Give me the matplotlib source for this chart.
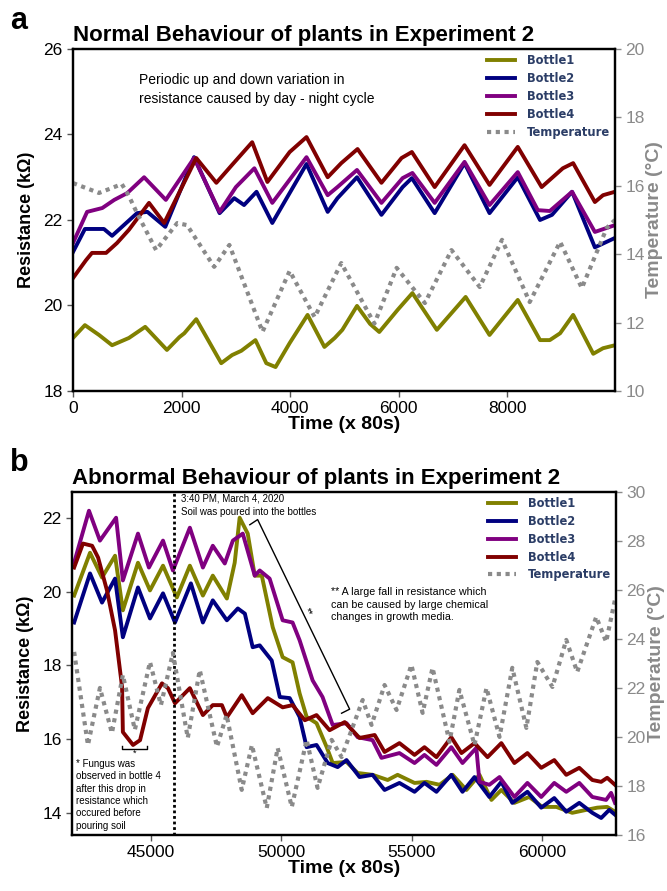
import numpy as np
import matplotlib
matplotlib.use('Agg')
import matplotlib.pyplot as plt

plt.rcParams['font.family'] = ['Liberation Sans', 'DejaVu Sans']

# ---- panel a : normal behaviour (x in units of 80 s) ----
a_b1_x = [0, 220, 480, 720, 1030, 1330, 1730, 1960, 2050, 2270, 2730, 2930, 3100, 3360, 3560, 3730, 3990,
          4320, 4630, 4820, 4960, 5230, 5470, 5640, 5980, 6250, 6700, 7230, 7670, 8190, 8600, 8780, 8970,
          9210, 9580, 9760, 9980]
a_b1_y = [19.24, 19.54, 19.31, 19.07, 19.24, 19.5, 18.96, 19.26, 19.35, 19.68, 18.65, 18.84, 18.94, 19.19,
          18.65, 18.56, 19.12, 19.78, 19.03, 19.24, 19.43, 19.99, 19.57, 19.38, 19.9, 20.29, 19.43, 20.2,
          19.31, 20.13, 19.19, 19.19, 19.35, 19.78, 18.87, 19.0, 19.07]
a_b2_x = [0, 220, 570, 720, 980, 1180, 1370, 1700, 2230, 2700, 2970, 3150, 3380, 3670, 4300, 4690, 4870,
          5230, 5680, 6070, 6240, 6660, 7210, 7670, 8190, 8600, 8820, 9190, 9610, 9980]
a_b2_y = [21.25, 21.79, 21.79, 21.63, 21.93, 22.16, 22.19, 21.84, 23.47, 22.16, 22.51, 22.35, 22.66, 21.93,
          23.31, 22.19, 22.51, 23.0, 22.12, 22.77, 22.98, 22.16, 23.33, 22.16, 23.0, 22.0, 22.12, 22.66,
          21.36, 21.58]
a_b3_x = [0, 260, 540, 760, 1000, 1310, 1710, 2230, 2700, 3000, 3340, 3670, 4300, 4690, 4870, 5230, 5680,
          6070, 6250, 6660, 7210, 7670, 8190, 8560, 8780, 9190, 9610, 9980]
a_b3_y = [21.46, 22.19, 22.28, 22.47, 22.63, 23.0, 22.47, 23.45, 22.19, 22.77, 23.21, 22.4, 23.47, 22.58,
          22.77, 23.17, 22.4, 22.98, 23.1, 22.4, 23.36, 22.35, 23.12, 22.23, 22.21, 22.66, 21.72, 21.88]
a_b4_x = [0, 240, 350, 610, 810, 1030, 1400, 1680, 2270, 2640, 2930, 3300, 3580, 3990, 4300, 4690, 4940,
          5240, 5680, 6050, 6240, 6660, 7210, 7670, 8190, 8630, 9020, 9210, 9610, 9760, 9980]
a_b4_y = [20.64, 21.06, 21.23, 21.23, 21.46, 21.77, 22.4, 21.93, 23.45, 22.87, 23.29, 23.82, 22.89, 23.59,
          23.94, 23.0, 23.33, 23.66, 22.87, 23.45, 23.59, 22.77, 23.75, 22.82, 23.71, 22.77, 23.21, 23.33,
          22.42, 22.58, 22.66]
a_temp_x = [0, 480, 900, 1030, 1180, 1530, 1920, 2100, 2600, 2880, 3490, 3990, 4450, 4940, 5550, 5960,
            6480, 6970, 7490, 7900, 8410, 8970, 9370, 9830, 9980]
a_temp_y = [16.08, 15.79, 16.05, 15.7, 15.2, 14.12, 14.91, 14.85, 13.63, 14.27, 11.73, 13.51, 12.16, 13.74,
            11.97, 13.6, 12.57, 14.12, 13.04, 14.42, 12.6, 14.36, 13.01, 14.77, 15.0]

# ---- panel b : abnormal behaviour ----
b_b1_x = [42050, 42660, 43120, 43620, 43920, 44500, 44960, 45460, 45990, 46490, 46990, 47370, 47910, 48210,
          48400, 48710, 48980, 49250, 49670, 50050, 50430, 50700, 50970, 51350, 51740, 51970, 52500, 52930,
          53500, 54080, 54460, 55110, 55570, 56070, 56570, 57100, 57600, 58060, 58440, 58940, 59510, 60010,
          60550, 61160, 61700, 62120, 62500, 62800]
b_b1_y = [19.89, 21.05, 20.38, 20.97, 19.49, 20.78, 20.03, 20.7, 19.84, 20.7, 19.89, 20.43, 19.81, 20.78,
          22.0, 21.57, 20.43, 20.43, 19.03, 18.22, 18.08, 17.24, 16.6, 16.43, 15.78, 15.35, 15.38, 15.08,
          15.03, 14.89, 15.03, 14.81, 14.84, 14.76, 15.03, 14.62, 15.03, 14.35, 14.62, 14.27, 14.43, 14.16,
          14.16, 14.0, 14.08, 14.14, 14.16, 14.03]
b_b2_x = [42050, 42660, 43120, 43620, 43920, 44500, 44960, 45460, 45920, 46530, 46990, 47370, 47910, 48330,
          48600, 48900, 49170, 49630, 49940, 50320, 50700, 50970, 51350, 51780, 52160, 52500, 53000, 53500,
          53960, 54530, 55110, 55490, 55950, 56520, 56950, 57410, 57980, 58440, 58860, 59440, 59970, 60470,
          60930, 61430, 61930, 62270, 62580, 62800]
b_b2_y = [19.16, 20.49, 19.7, 20.35, 18.76, 20.11, 19.27, 19.95, 19.16, 20.22, 19.16, 19.76, 19.22, 19.54,
          19.4, 18.49, 18.54, 18.13, 17.14, 17.11, 16.6, 15.78, 15.84, 15.35, 15.24, 15.43, 14.97, 15.03,
          14.62, 14.81, 14.57, 14.81, 14.57, 15.03, 14.57, 14.97, 14.43, 14.84, 14.27, 14.57, 14.14, 14.4,
          14.03, 14.27, 14.0, 13.86, 14.08, 13.95]
b_b3_x = [42050, 42620, 43040, 43660, 43920, 44500, 44920, 45460, 45840, 46490, 46990, 47370, 47830, 48140,
          48520, 48980, 49170, 49550, 50050, 50430, 50700, 51200, 51580, 51970, 52500, 52930, 53500, 53840,
          54530, 55110, 55490, 55950, 56520, 56950, 57480, 57600, 57980, 58370, 58940, 59440, 59970, 60470,
          60930, 61430, 61930, 62460, 62650, 62800]
b_b3_y = [20.78, 22.19, 21.38, 22.0, 20.3, 21.57, 20.65, 21.38, 20.57, 21.73, 20.65, 21.24, 20.76, 21.38,
          21.57, 20.43, 20.57, 20.35, 19.22, 19.16, 18.68, 17.59, 17.14, 16.38, 16.43, 16.05, 15.97, 15.49,
          15.62, 15.35, 15.57, 15.3, 15.78, 15.35, 15.76, 14.84, 14.76, 14.97, 14.43, 14.81, 14.43, 14.81,
          14.57, 14.81, 14.43, 14.35, 14.54, 14.27]
b_b4_x = [42050, 42390, 42740, 42970, 43310, 43620, 43890, 43920, 44310, 44580, 44880, 45420, 45650, 45920,
          46490, 46990, 47370, 47720, 47910, 48480, 48900, 49480, 50050, 50430, 50900, 51350, 51850, 52430,
          53000, 53580, 53960, 54530, 55110, 55490, 55950, 56520, 56910, 57410, 57910, 58440, 58940, 59440,
          59970, 60470, 60930, 61430, 61930, 62270, 62500, 62800]
b_b4_y = [20.65, 21.3, 21.24, 20.92, 20.03, 18.95, 17.41, 16.19, 15.84, 15.97, 16.84, 17.51, 17.38, 16.97,
          17.38, 16.65, 16.92, 16.92, 16.59, 17.19, 16.7, 17.11, 16.86, 16.92, 16.51, 16.65, 16.24, 16.46,
          16.03, 16.11, 15.65, 15.89, 15.57, 15.78, 15.51, 16.05, 15.62, 15.89, 15.51, 15.89, 15.35, 15.62,
          15.22, 15.43, 15.03, 15.22, 14.89, 14.84, 14.95, 14.76]
b_temp_x = [42050, 42580, 43040, 43500, 43920, 44380, 44960, 45380, 45840, 46410, 46870, 47530, 47900, 48480,
            48870, 49440, 49860, 50400, 50970, 51390, 51930, 52310, 53120, 53460, 53960, 54420, 54990, 55420,
            55800, 56450, 56830, 57410, 57870, 58370, 58860, 59400, 59820, 60400, 60930, 61350, 62080, 62460,
            62800]
b_temp_y = [23.47, 19.67, 22.0, 20.16, 22.53, 20.29, 23.06, 21.3, 23.43, 19.96, 22.73, 19.6, 20.9, 17.84,
            19.67, 17.1, 19.55, 17.14, 19.88, 17.92, 19.88, 19.18, 21.51, 20.49, 22.12, 21.1, 22.94, 20.98,
            22.82, 19.8, 21.92, 19.67, 22.0, 20.0, 22.82, 20.37, 23.06, 22.04, 23.96, 22.65, 24.9, 23.88, 25.6]

soil_time = 45880
bracket_x = [48790, 49090, 52620, 52310]
bracket_y = [21.81, 21.95, 16.81, 16.70]
fungus_x = [43885, 44840]
fungus_y = 15.73

labels = ['Bottle1', 'Bottle2', 'Bottle3', 'Bottle4', 'Temperature']
colors = ['#808000', '#000080', '#800080', '#800000']
temp_color = '#8a8a8a'
legend_color = '#2b3d66'


def styleAxes(ax, ax2):
    '''
    thick black frame, gray right axis
    '''
    for sp in ax.spines.values():
        sp.set_linewidth(1.6)
    for sp in ax2.spines.values():
        sp.set_linewidth(1.6)
    ax.tick_params(axis='both', labelsize=12.5, length=4, width=1, color='#555555')
    ax2.tick_params(axis='y', labelsize=12.5, length=4, width=1, colors=temp_color)
    ax.set_ylabel('Resistance (k\u03a9)', fontsize=13, fontweight='bold', labelpad=6)
    ax2.set_ylabel('Temperature (\u00b0C)', fontsize=14, fontweight='bold', color=temp_color)
    ax2.yaxis.set_label_coords(1.058, 0.5)
    ax.set_xlabel('Time (x 80s)', fontsize=14, fontweight='bold', labelpad=0)


def drawPanel(ax, series, temp):
    '''
    plot the four bottles on ax and the temperature on a twin axis
    '''
    handles = []
    for (x, y), c, lab in zip(series, colors, labels):
        h, = ax.plot(x, y, color=c, lw=2.8, label=lab, solid_joinstyle='round')
        handles.append(h)
    ax2 = ax.twinx()
    h, = ax2.plot(temp[0], temp[1], color=temp_color, lw=3, linestyle=(0, (1, 1.1)), label=labels[4])
    handles.append(h)
    leg = ax2.legend(handles=handles, loc='upper right', frameon=False, borderaxespad=0.05,
                     handlelength=2.45, handletextpad=1.0, labelspacing=0.42,
                     prop={'family': 'DejaVu Sans', 'weight': 'bold', 'size': 8.3})
    for t in leg.get_texts():
        t.set_color(legend_color)
    return ax2


fig = plt.figure(figsize=(6.67, 8.91), dpi=100)

# panel a
axa = fig.add_axes([0.1094, 0.5612, 0.8126, 0.3838])
axa2 = drawPanel(axa, [(a_b1_x, a_b1_y), (a_b2_x, a_b2_y), (a_b3_x, a_b3_y), (a_b4_x, a_b4_y)],
                 (a_temp_x, a_temp_y))
axa.set_xlim(0, 9980)
axa.set_ylim(18, 26)
axa.set_xticks([0, 2000, 4000, 6000, 8000])
axa.set_yticks([18, 20, 22, 24, 26])
axa2.set_ylim(10, 20)
axa2.set_yticks([10, 12, 14, 16, 18, 20])
styleAxes(axa, axa2)
axa.set_title('Normal Behaviour of plants in Experiment 2', loc='left', fontsize=16,
              fontweight='bold', pad=6)
axa.text(0.122, 0.93, 'Periodic up and down variation in\nresistance caused by day - night cycle',
         transform=axa.transAxes, fontsize=10, va='top', ha='left', linespacing=1.45)
fig.text(0.015, 0.993, 'a', fontsize=22, fontweight='bold', va='top')

# panel b
axb = fig.add_axes([0.108, 0.0629, 0.8156, 0.385])
axb2 = drawPanel(axb, [(b_b1_x, b_b1_y), (b_b2_x, b_b2_y), (b_b3_x, b_b3_y), (b_b4_x, b_b4_y)],
                 (b_temp_x, b_temp_y))
axb.set_xlim(41970, 62840)
axb.set_ylim(13.4, 22.7)
axb.set_xticks([45000, 50000, 55000, 60000])
axb.set_yticks([14, 16, 18, 20, 22])
axb2.set_ylim(16, 30)
axb2.set_yticks([16, 18, 20, 22, 24, 26, 28, 30])
styleAxes(axb, axb2)
axb.set_title('Abnormal Behaviour of plants in Experiment 2', loc='left', fontsize=16,
              fontweight='bold', pad=6)
fig.text(0.015, 0.497, 'b', fontsize=22, fontweight='bold', va='top')

# annotations
axb.axvline(soil_time, color='black', lw=2, linestyle=(0, (1, 1)))
axb.text(soil_time + 270, 22.65, '3:40 PM, March 4, 2020\nSoil was poured into the bottles',
         fontsize=7, va='top', ha='left', linespacing=1.35)
axb.plot(bracket_x, bracket_y, color='black', lw=1)
axb.text(51000, 19.45, '**', fontsize=7, rotation=-64, ha='center', va='center')
axb.text(0.476, 0.722, '** A large fall in resistance which\ncan be caused by large chemical\nchanges in growth media.',
         transform=axb.transAxes, fontsize=7.7, va='top', ha='left', linespacing=1.3)
axb.plot([fungus_x[0], fungus_x[0], fungus_x[1], fungus_x[1]],
         [fungus_y + 0.08, fungus_y, fungus_y, fungus_y + 0.08], color='black', lw=1)
axb.text(sum(fungus_x) / 2, fungus_y + 0.02, '*', fontsize=6.5, ha='center', va='top')
axb.text(0.008, 0.222, '* Fungus was\nobserved in bottle 4\nafter this drop in\nresistance which\noccured before\npouring soil',
         transform=axb.transAxes, fontsize=7, va='top', ha='left', linespacing=1.3)

fig.savefig('out.png', dpi=100)
